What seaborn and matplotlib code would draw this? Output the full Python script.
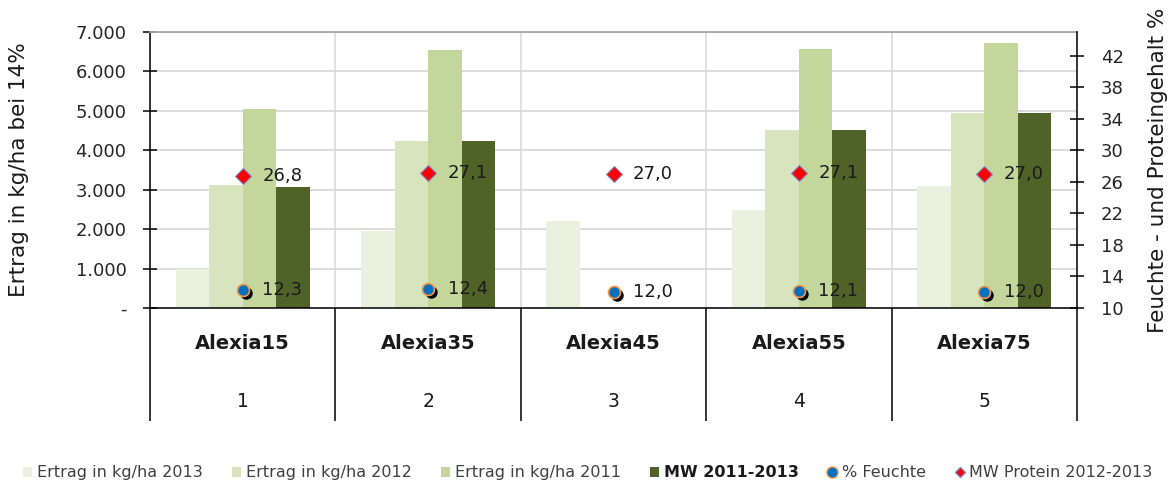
import matplotlib
matplotlib.use("Agg")
import matplotlib.pyplot as plt
import matplotlib.transforms as mtrans
from matplotlib.patches import Patch
from matplotlib.lines import Line2D
import seaborn as sns
import pandas as pd
import numpy as np

# ---------------- data ----------------
sorten = ["Alexia15", "Alexia35", "Alexia45", "Alexia55", "Alexia75"]
nummern = ["1", "2", "3", "4", "5"]
ertrag_2013 = [1000, 1960, 2200, 2490, 3100]
ertrag_2012 = [3130, 4230, np.nan, 4520, 4940]
ertrag_2011 = [5050, 6550, np.nan, 6580, 6730]
mw_2011_2013 = [3060, 4230, np.nan, 4520, 4940]
feuchte = [12.3, 12.4, 12.0, 12.1, 12.0]
protein = [26.8, 27.1, 27.0, 27.1, 27.0]
serien = ["Ertrag in kg/ha 2013", "Ertrag in kg/ha 2012",
          "Ertrag in kg/ha 2011", "MW 2011-2013"]
y_ticks = [0, 1000, 2000, 3000, 4000, 5000, 6000, 7000]
y_ticklabels = ["-", "1.000", "2.000", "3.000", "4.000", "5.000", "6.000", "7.000"]
y2_ticks = [10, 14, 18, 22, 26, 30, 34, 38, 42]
colors = ["#EBF1DE", "#D7E4BD", "#C3D69B", "#4F6228"]

df = pd.DataFrame({
    "Sorte": sorten * 4,
    "Serie": sum([[s] * 5 for s in serien], []),
    "Ertrag": ertrag_2013 + ertrag_2012 + ertrag_2011 + mw_2011_2013,
})

sns.set_theme(style="white")
plt.rcParams["font.family"] = ["DejaVu Sans"]

fig = plt.figure(figsize=(11.69, 4.84), dpi=100)
ax = fig.add_axes([150 / 1169, 1 - 308 / 484, 927 / 1169, 276 / 484])

sns.barplot(data=df, x="Sorte", y="Ertrag", hue="Serie", hue_order=serien,
            palette=colors, saturation=1, width=0.723, linewidth=0,
            legend=False, ax=ax, order=sorten)

ax.set_xlim(-0.5, 4.5)
ax.set_ylim(0, 7000)
ax.set_yticks(y_ticks)
ax.set_yticklabels(y_ticklabels, fontsize=13, color="#262626")
ax.set_xlabel("")
ax.set_ylabel("Ertrag in kg/ha bei 14%", fontsize=15.5, color="#1a1a1a")
ax.yaxis.set_label_coords(-0.1305, 0.5)
ax.set_axisbelow(True)
ax.grid(axis="y", color="#D9D9D9", linewidth=1.3)
ax.set_xticks([0, 1, 2, 3, 4])
ax.set_xticklabels([])
ax.set_xticks([-0.5, 0.5, 1.5, 2.5, 3.5, 4.5], minor=True)
ax.grid(axis="x", which="minor", color="#DDDDDD", linewidth=1.3)
ax.tick_params(axis="x", which="major", length=0)
ax.tick_params(axis="x", which="minor", direction="out", length=81, width=1.1,
               color="black", bottom=True)
ax.tick_params(axis="y", direction="inout", length=10, width=1.1, color="black",
               pad=12, left=True)
for s in ["left", "bottom"]:
    ax.spines[s].set_color("black")
    ax.spines[s].set_linewidth(1.1)
ax.spines["top"].set_color("#A6A6A6")
ax.spines["top"].set_linewidth(1.3)
ax.spines["right"].set_visible(False)

# category labels
xt = ax.get_xaxis_transform()
for i, (s, n) in enumerate(zip(sorten, nummern)):
    ax.text(i, -0.127, s, transform=xt, ha="center", va="center",
            fontsize=14, fontweight="bold", color="#1a1a1a")
    ax.text(i, -0.337, n, transform=xt, ha="center", va="center",
            fontsize=13.5, color="#1a1a1a")

# secondary axis
ax2 = ax.twinx()
ax2.set_ylim(10, 45)
ax2.set_yticks(y2_ticks)
ax2.set_yticklabels([str(t) for t in y2_ticks], fontsize=13, color="#262626")
ax2.tick_params(axis="y", direction="inout", length=10, width=1.1, color="black",
                pad=12, right=True)
ax2.set_ylabel("Feuchte - und Proteingehalt %", fontsize=15.5, color="#1a1a1a")
ax2.yaxis.set_label_coords(1.0766, 0.5)
ax2.spines["right"].set_color("black")
ax2.spines["right"].set_linewidth(1.1)
for s in ["top", "left", "bottom"]:
    ax2.spines[s].set_visible(False)
ax2.grid(False)

pos = np.arange(len(sorten))
shadow = mtrans.offset_copy(ax2.transData, fig=fig, x=3, y=-3, units="dots")
ax2.scatter(pos, feuchte, s=80, color="black", transform=shadow, zorder=3,
            linewidths=0)
sns.scatterplot(x=pos, y=feuchte, s=75, color="#0070C0", edgecolor="#F79646",
                linewidth=1.2, ax=ax2, zorder=4, legend=False)
sns.scatterplot(x=pos, y=protein, s=65, marker="D", color="#FF0000",
                edgecolor="#7F7FBF", linewidth=0.8, ax=ax2, zorder=4, legend=False)
ax2.set_xlim(-0.5, 4.5)

for i in range(len(sorten)):
    ax2.annotate(f"{protein[i]:.1f}".replace(".", ","), (pos[i], protein[i]),
                 xytext=(14, 0), textcoords="offset points", ha="left",
                 va="center", fontsize=13, color="#1a1a1a")
    ax2.annotate(f"{feuchte[i]:.1f}".replace(".", ","), (pos[i], feuchte[i]),
                 xytext=(14, 0), textcoords="offset points", ha="left",
                 va="center", fontsize=13, color="#1a1a1a")

# legend
handles = [Patch(facecolor=c, edgecolor="none") for c in colors]
handles.append(Line2D([], [], linestyle="none", marker="o", markersize=8,
                      markerfacecolor="#0070C0", markeredgecolor="#F79646"))
handles.append(Line2D([], [], linestyle="none", marker="D", markersize=5,
                      markerfacecolor="#FF0000", markeredgecolor="#7F7FBF"))
labels = serien + ["% Feuchte", "MW Protein 2012-2013"]
leg = fig.legend(handles, labels, loc="center", bbox_to_anchor=(0.5026, 0.023),
                 ncol=6, frameon=False, fontsize=11.5, handlelength=0.6,
                 handleheight=0.6, handletextpad=0.3, columnspacing=1.8)
for t in leg.get_texts():
    t.set_color("#404040")
leg.get_texts()[3].set_fontweight("bold")
leg.get_texts()[3].set_color("#1a1a1a")

fig.savefig("out.png", dpi=100)
